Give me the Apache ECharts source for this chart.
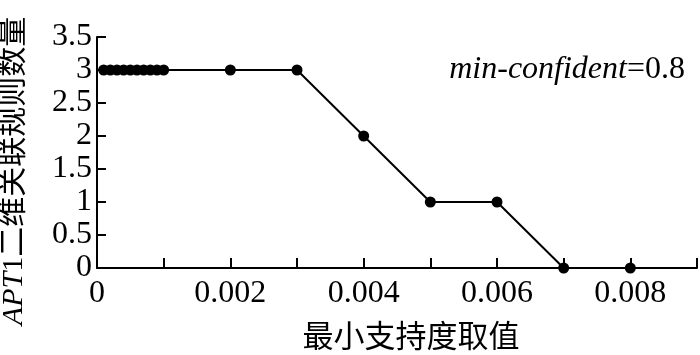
<!DOCTYPE html>
<html>
<head>
<meta charset="utf-8">
<script src="https://cdn.jsdelivr.net/npm/echarts@6/dist/echarts.min.js"></script>
<style>
  html, body { margin: 0; padding: 0; background: #fff; }
  #chart { width: 700px; height: 355px; }
</style>
</head>
<body>
<div id="chart"></div>
<script>
// data
const supportValues = [0.0001, 0.0002, 0.0003, 0.0004, 0.0005, 0.0006, 0.0007, 0.0008, 0.0009, 0.001,
  0.002, 0.003, 0.004, 0.005, 0.006, 0.007, 0.008];
const ruleCounts = [3, 3, 3, 3, 3, 3, 3, 3, 3, 3,
  3, 3, 2, 1, 1, 0, 0];
const xTickLabels = { '0': '0', '2': '0.002', '4': '0.004', '6': '0.006', '8': '0.008' };
const yTickLabels = ['0', '0.5', '1', '1.5', '2', '2.5', '3', '3.5'];

const serif = '"Liberation Serif", "Noto Sans CJK SC", serif';

document.addEventListener('DOMContentLoaded', function() {
	const chart = echarts.init(document.getElementById('chart'));
	const option = {
		animation: false,
		grid: { top: 37, right: 1, bottom: 87, left: 97 },
		xAxis: {
			type: 'value',
			min: 0,
			max: 0.009,
			interval: 0.001,
			axisLine: { lineStyle: { color: '#000', width: 2 } },
			axisTick: { inside: true, length: 10, lineStyle: { color: '#000', width: 2 } },
			axisLabel: {
				color: '#000',
				fontFamily: serif,
				fontSize: 32,
				margin: 10,
				showMaxLabel: true,
				formatter: function(v) {
					const k = String(Math.round(v * 1000));
					return xTickLabels[k] || '';
				}
			},
			splitLine: { show: false }
		},
		yAxis: {
			type: 'value',
			min: 0,
			max: 3.5,
			interval: 0.5,
			axisLine: { show: true, lineStyle: { color: '#000', width: 2 } },
			axisTick: { show: true, inside: true, length: 9, lineStyle: { color: '#000', width: 2 } },
			axisLabel: {
				color: '#000',
				fontFamily: serif,
				fontSize: 32,
				margin: 5,
				formatter: function(v) {
					return yTickLabels[Math.round(v * 2)];
				}
			},
			splitLine: { show: false }
		},
		series: [{
			type: 'line',
			data: supportValues.map(function(x, i) { return [x, ruleCounts[i]]; }),
			symbol: 'circle',
			symbolSize: 11,
			showAllSymbol: true,
			clip: false,
			lineStyle: { color: '#000', width: 2 },
			itemStyle: { color: '#000' }
		}],
		graphic: [{
			type: 'text',
			x: 14,
			y: 171,
			rotation: Math.PI / 2,
			style: {
				text: '{i|APT}1二维关联规则数量',
				fontFamily: serif,
				fontSize: 30,
				fill: '#000',
				align: 'center',
				verticalAlign: 'middle',
				rich: { i: { fontStyle: 'italic', fontFamily: serif, fontSize: 30 } }
			}
		}, {
			type: 'text',
			x: 411,
			y: 339,
			style: {
				text: '最小支持度取值',
				fontFamily: serif,
				fontSize: 31,
				fill: '#000',
				align: 'center',
				verticalAlign: 'middle'
			}
		}, {
			type: 'text',
			x: 685,
			y: 70,
			style: {
				text: '{i|min-confident}=0.8',
				fontFamily: serif,
				fontSize: 32,
				fill: '#000',
				align: 'right',
				verticalAlign: 'middle',
				rich: { i: { fontStyle: 'italic', fontFamily: serif, fontSize: 32 } }
			}
		}]
	};
	chart.setOption(option);
	window.addEventListener('resize', function() {
		chart.resize();
	});
});
</script>
</body>
</html>
